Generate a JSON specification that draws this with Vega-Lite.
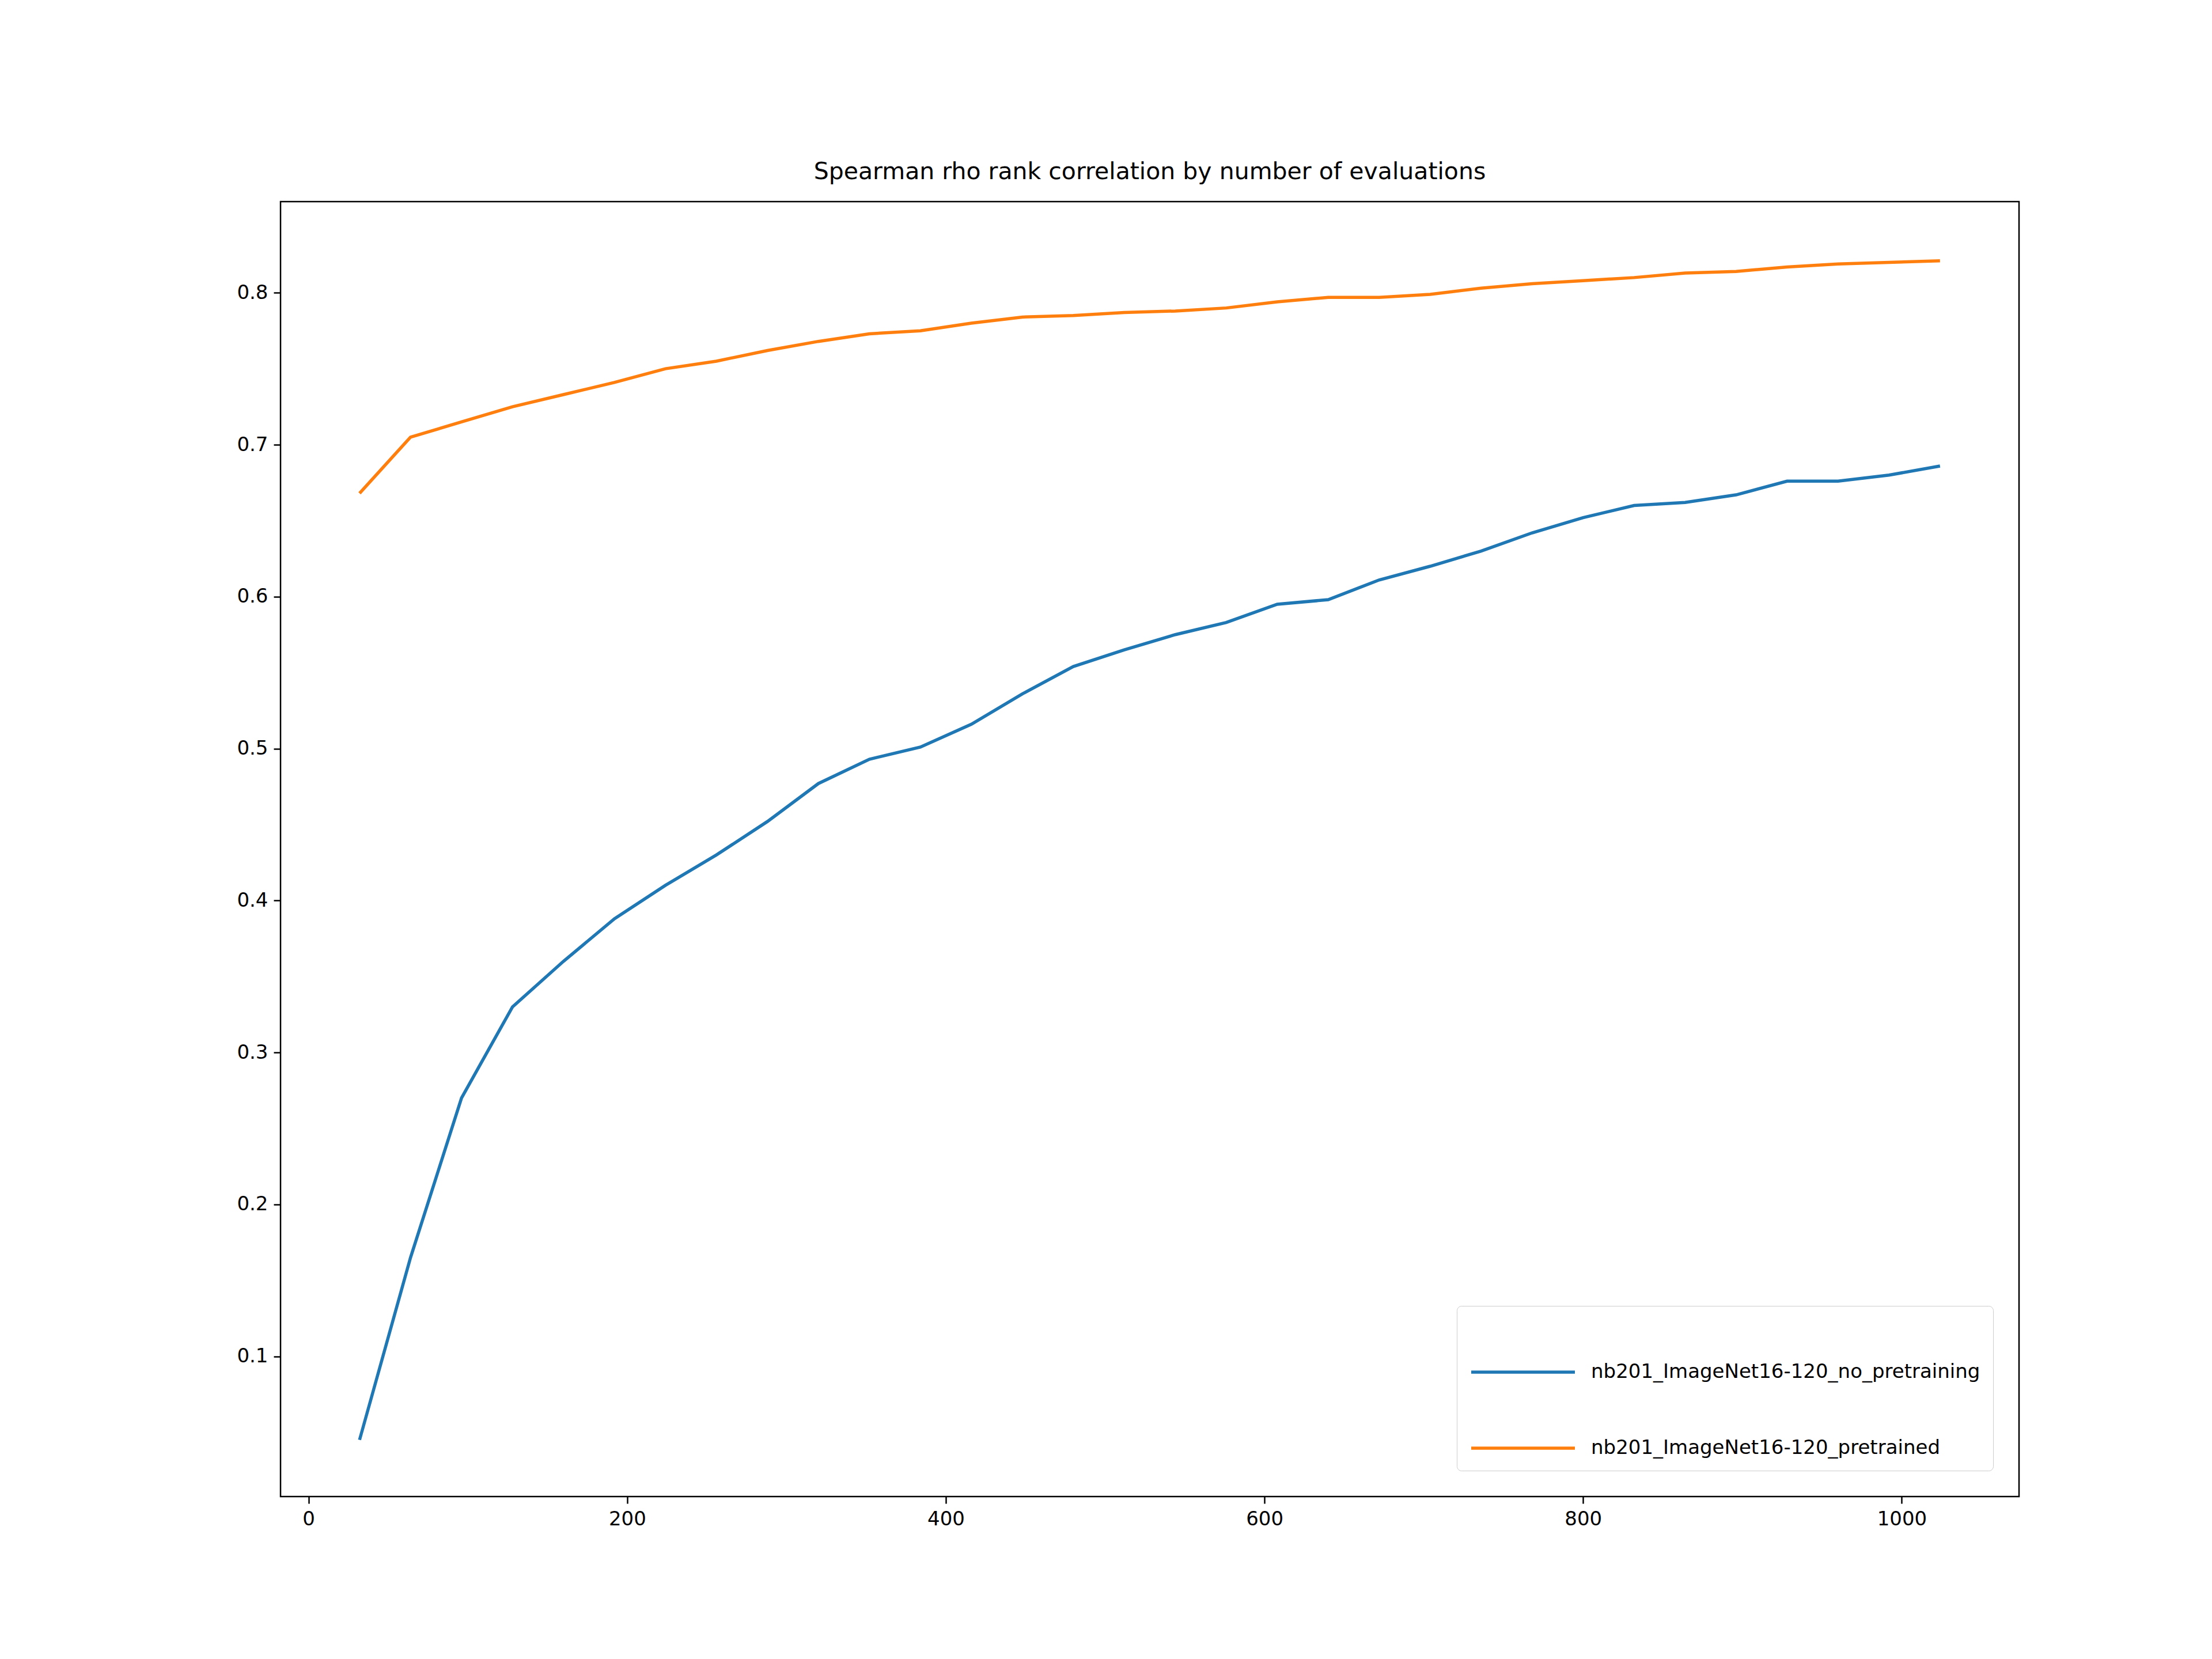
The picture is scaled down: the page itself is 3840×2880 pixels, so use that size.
{
  "$schema": "https://vega.github.io/schema/vega-lite/v6.json",
  "autosize": "none",
  "width": 3018,
  "height": 2248,
  "padding": {"left": 487, "top": 350, "right": 335, "bottom": 282},
  "background": "white",
  "config": {
    "font": "DejaVu Sans",
    "view": {"stroke": "black", "strokeWidth": 2.5},
    "axis": {"grid": false, "domain": false, "tickColor": "black", "tickWidth": 2.5, "tickSize": 12, "labelFontSize": 34, "labelColor": "black", "labelPadding": 10, "title": null}
  },
  "title": {"text": "Spearman rho rank correlation by number of evaluations", "fontSize": 41, "fontWeight": "normal", "offset": 30, "color": "black"},
  "data": {"values": [
    {"n":32,"rho":0.045,"s":"nb201_ImageNet16-120_no_pretraining"},
    {"n":64,"rho":0.165,"s":"nb201_ImageNet16-120_no_pretraining"},
    {"n":96,"rho":0.27,"s":"nb201_ImageNet16-120_no_pretraining"},
    {"n":128,"rho":0.33,"s":"nb201_ImageNet16-120_no_pretraining"},
    {"n":160,"rho":0.36,"s":"nb201_ImageNet16-120_no_pretraining"},
    {"n":192,"rho":0.388,"s":"nb201_ImageNet16-120_no_pretraining"},
    {"n":224,"rho":0.41,"s":"nb201_ImageNet16-120_no_pretraining"},
    {"n":256,"rho":0.43,"s":"nb201_ImageNet16-120_no_pretraining"},
    {"n":288,"rho":0.452,"s":"nb201_ImageNet16-120_no_pretraining"},
    {"n":320,"rho":0.477,"s":"nb201_ImageNet16-120_no_pretraining"},
    {"n":352,"rho":0.493,"s":"nb201_ImageNet16-120_no_pretraining"},
    {"n":384,"rho":0.501,"s":"nb201_ImageNet16-120_no_pretraining"},
    {"n":416,"rho":0.516,"s":"nb201_ImageNet16-120_no_pretraining"},
    {"n":448,"rho":0.536,"s":"nb201_ImageNet16-120_no_pretraining"},
    {"n":480,"rho":0.554,"s":"nb201_ImageNet16-120_no_pretraining"},
    {"n":512,"rho":0.565,"s":"nb201_ImageNet16-120_no_pretraining"},
    {"n":544,"rho":0.575,"s":"nb201_ImageNet16-120_no_pretraining"},
    {"n":576,"rho":0.583,"s":"nb201_ImageNet16-120_no_pretraining"},
    {"n":608,"rho":0.595,"s":"nb201_ImageNet16-120_no_pretraining"},
    {"n":640,"rho":0.598,"s":"nb201_ImageNet16-120_no_pretraining"},
    {"n":672,"rho":0.611,"s":"nb201_ImageNet16-120_no_pretraining"},
    {"n":704,"rho":0.62,"s":"nb201_ImageNet16-120_no_pretraining"},
    {"n":736,"rho":0.63,"s":"nb201_ImageNet16-120_no_pretraining"},
    {"n":768,"rho":0.642,"s":"nb201_ImageNet16-120_no_pretraining"},
    {"n":800,"rho":0.652,"s":"nb201_ImageNet16-120_no_pretraining"},
    {"n":832,"rho":0.66,"s":"nb201_ImageNet16-120_no_pretraining"},
    {"n":864,"rho":0.662,"s":"nb201_ImageNet16-120_no_pretraining"},
    {"n":896,"rho":0.667,"s":"nb201_ImageNet16-120_no_pretraining"},
    {"n":928,"rho":0.676,"s":"nb201_ImageNet16-120_no_pretraining"},
    {"n":960,"rho":0.676,"s":"nb201_ImageNet16-120_no_pretraining"},
    {"n":992,"rho":0.68,"s":"nb201_ImageNet16-120_no_pretraining"},
    {"n":1024,"rho":0.686,"s":"nb201_ImageNet16-120_no_pretraining"},
    {"n":32,"rho":0.668,"s":"nb201_ImageNet16-120_pretrained"},
    {"n":64,"rho":0.705,"s":"nb201_ImageNet16-120_pretrained"},
    {"n":96,"rho":0.715,"s":"nb201_ImageNet16-120_pretrained"},
    {"n":128,"rho":0.725,"s":"nb201_ImageNet16-120_pretrained"},
    {"n":160,"rho":0.733,"s":"nb201_ImageNet16-120_pretrained"},
    {"n":192,"rho":0.741,"s":"nb201_ImageNet16-120_pretrained"},
    {"n":224,"rho":0.75,"s":"nb201_ImageNet16-120_pretrained"},
    {"n":256,"rho":0.755,"s":"nb201_ImageNet16-120_pretrained"},
    {"n":288,"rho":0.762,"s":"nb201_ImageNet16-120_pretrained"},
    {"n":320,"rho":0.768,"s":"nb201_ImageNet16-120_pretrained"},
    {"n":352,"rho":0.773,"s":"nb201_ImageNet16-120_pretrained"},
    {"n":384,"rho":0.775,"s":"nb201_ImageNet16-120_pretrained"},
    {"n":416,"rho":0.78,"s":"nb201_ImageNet16-120_pretrained"},
    {"n":448,"rho":0.784,"s":"nb201_ImageNet16-120_pretrained"},
    {"n":480,"rho":0.785,"s":"nb201_ImageNet16-120_pretrained"},
    {"n":512,"rho":0.787,"s":"nb201_ImageNet16-120_pretrained"},
    {"n":544,"rho":0.788,"s":"nb201_ImageNet16-120_pretrained"},
    {"n":576,"rho":0.79,"s":"nb201_ImageNet16-120_pretrained"},
    {"n":608,"rho":0.794,"s":"nb201_ImageNet16-120_pretrained"},
    {"n":640,"rho":0.797,"s":"nb201_ImageNet16-120_pretrained"},
    {"n":672,"rho":0.797,"s":"nb201_ImageNet16-120_pretrained"},
    {"n":704,"rho":0.799,"s":"nb201_ImageNet16-120_pretrained"},
    {"n":736,"rho":0.803,"s":"nb201_ImageNet16-120_pretrained"},
    {"n":768,"rho":0.806,"s":"nb201_ImageNet16-120_pretrained"},
    {"n":800,"rho":0.808,"s":"nb201_ImageNet16-120_pretrained"},
    {"n":832,"rho":0.81,"s":"nb201_ImageNet16-120_pretrained"},
    {"n":864,"rho":0.813,"s":"nb201_ImageNet16-120_pretrained"},
    {"n":896,"rho":0.814,"s":"nb201_ImageNet16-120_pretrained"},
    {"n":928,"rho":0.817,"s":"nb201_ImageNet16-120_pretrained"},
    {"n":960,"rho":0.819,"s":"nb201_ImageNet16-120_pretrained"},
    {"n":992,"rho":0.82,"s":"nb201_ImageNet16-120_pretrained"},
    {"n":1024,"rho":0.821,"s":"nb201_ImageNet16-120_pretrained"}
  ]},
  "mark": {"type": "line", "strokeWidth": 5.5},
  "encoding": {
    "x": {"field": "n", "type": "quantitative", "scale": {"domain": [-17.6, 1073.6], "nice": false, "zero": false},
      "axis": {"values": [0, 200, 400, 600, 800, 1000], "format": "d"}},
    "y": {"field": "rho", "type": "quantitative", "scale": {"domain": [0.0077, 0.86], "nice": false, "zero": false},
      "axis": {"values": [0.1, 0.2, 0.3, 0.4, 0.5, 0.6, 0.7, 0.8], "format": ".1f"}},
    "color": {"field": "s", "type": "nominal",
      "scale": {"domain": ["nb201_ImageNet16-120_no_pretraining", "nb201_ImageNet16-120_pretrained"], "range": ["#1f77b4", "#ff7f0e"]},
      "legend": {"title": null, "orient": "bottom-right", "offset": 45, "symbolType": "stroke", "symbolSize": 32400, "symbolStrokeWidth": 5.5,
        "labelFontSize": 34, "labelColor": "black", "labelOffset": 25, "rowPadding": 22, "padding": 22,
        "fillColor": "white", "strokeColor": "#cccccc", "cornerRadius": 8, "labelLimit": 2000}}
  }
}
